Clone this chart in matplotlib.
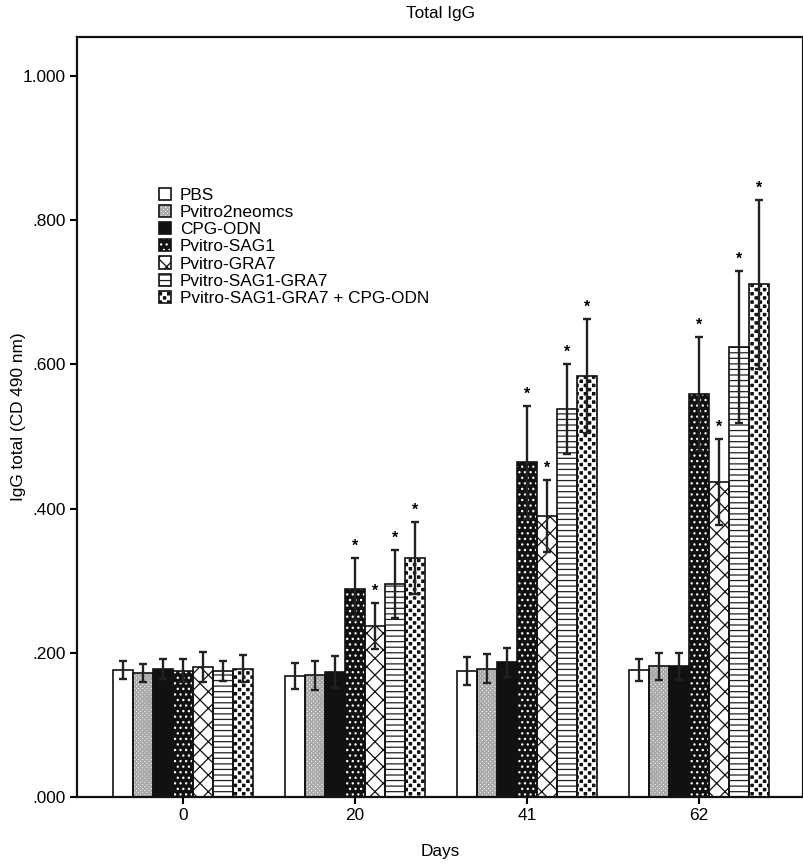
import numpy as np
import matplotlib
matplotlib.use('Agg')
import matplotlib.pyplot as plt
import matplotlib.hatch as mhatch
from matplotlib.path import Path
from matplotlib.legend_handler import HandlerTuple
from matplotlib.ticker import FuncFormatter

days = ['0', '20', '41', '62']
groups = ['PBS', 'Pvitro2neomcs', 'CPG-ODN', 'Pvitro-SAG1', 'Pvitro-GRA7',
          'Pvitro-SAG1-GRA7', 'Pvitro-SAG1-GRA7 + CPG-ODN']

pbs = [0.176, 0.168, 0.175, 0.176]
neo = [0.172, 0.169, 0.178, 0.181]
cpg = [0.178, 0.173, 0.187, 0.181]
sag1 = [0.175, 0.288, 0.464, 0.559]
gra7 = [0.180, 0.237, 0.390, 0.437]
sag1_gra7 = [0.175, 0.295, 0.538, 0.624]
combo = [0.178, 0.331, 0.584, 0.711]

pbs_err = [0.012, 0.018, 0.019, 0.015]
neo_err = [0.013, 0.020, 0.020, 0.019]
cpg_err = [0.014, 0.022, 0.020, 0.019]
sag1_err = [0.016, 0.043, 0.078, 0.079]
gra7_err = [0.021, 0.032, 0.050, 0.060]
sag1_gra7_err = [0.014, 0.047, 0.063, 0.105]
combo_err = [0.019, 0.050, 0.079, 0.117]

# significance stars (1 = star above bar)
pbs_sig = [0, 0, 0, 0]
neo_sig = [0, 0, 0, 0]
cpg_sig = [0, 0, 0, 0]
sag1_sig = [0, 1, 1, 1]
gra7_sig = [0, 1, 1, 1]
sag1_gra7_sig = [0, 1, 1, 1]
combo_sig = [0, 1, 1, 1]

values = [pbs, neo, cpg, sag1, gra7, sag1_gra7, combo]
errors = [pbs_err, neo_err, cpg_err, sag1_err, gra7_err, sag1_gra7_err, combo_err]
sigs = [pbs_sig, neo_sig, cpg_sig, sag1_sig, gra7_sig, sag1_gra7_sig, combo_sig]


# checkerboard hatch, replaces the star hatch ('*')
class CheckerHatch(mhatch.Shapes):
    size = 1.0
    filled = True

    def __init__(self, hatch, density):
        self.num_rows = hatch.count('*') * density
        c = 0.25
        s = c * 0.85
        verts, codes = [], []
        for ix in range(4):
            for iy in range(4):
                if (ix + iy) % 2 == 0:
                    x0 = -0.5 + ix * c + (c - s) / 2
                    y0 = -0.5 + iy * c + (c - s) / 2
                    verts += [(x0, y0), (x0 + s, y0), (x0 + s, y0 + s), (x0, y0 + s), (x0, y0)]
                    codes += [Path.MOVETO, Path.LINETO, Path.LINETO, Path.LINETO, Path.CLOSEPOLY]
        self.shape_vertices = np.array(verts)
        self.shape_codes = np.array(codes, dtype=Path.code_type)
        super().__init__(hatch, density)


mhatch._hatch_types = [t for t in mhatch._hatch_types if t is not mhatch.Stars] + [CheckerHatch]

plt.rcParams['font.family'] = ['Liberation Sans', 'DejaVu Sans']
plt.rcParams['hatch.linewidth'] = 0.9
FS = 12.4

# (face, hatch, hatch colour)
styles = [('white', None, 'white'),
          ('white', '**', '#a8a8a8'),
          ('#111111', None, '#111111'),
          ('#111111', '...', 'white'),
          ('white', 'xx', '#111111'),
          ('white', '---', '#222222'),
          ('#111111', '*', 'white')]

fig = plt.figure(figsize=(8.04, 8.64), dpi=100)
ax = fig.add_axes([77 / 804, 1 - 797 / 864, 726 / 804, 760 / 864])

x = np.arange(len(days))
w = 0.1163
handles = []
for j, g in enumerate(groups):
    pos = x + (j - 3) * w
    face, hatch, hc = styles[j]
    b1 = ax.bar(pos, values[j], w, color=face, edgecolor=hc, linewidth=0, hatch=hatch, zorder=2)
    b2 = ax.bar(pos, values[j], w, fill=False, edgecolor='#111111', linewidth=1.2, zorder=3)
    ax.errorbar(pos, values[j], yerr=errors[j], fmt='none', ecolor='#222222',
                elinewidth=1.7, capsize=3, capthick=1.7, zorder=4)
    for k in range(len(days)):
        if sigs[j][k]:
            ax.annotate('*', (pos[k], values[j][k] + errors[j][k]), xytext=(0, 3),
                        textcoords='offset points', ha='center', va='bottom',
                        fontsize=11.5, fontweight='bold')
    handles.append((b1, b2))

ax.set_xlim(-0.616, 3.605)
ax.set_ylim(0, 1.054)
ax.set_xticks(x)
ax.set_xticklabels(days)
ax.set_yticks([0, 0.2, 0.4, 0.6, 0.8, 1.0])
ax.yaxis.set_major_formatter(FuncFormatter(lambda v, p: f'{v:.3f}' if v >= 1 else f'{v:.3f}'.lstrip('0')))
ax.tick_params(direction='out', length=5, width=1.5, pad=3, labelsize=FS, top=False, right=False)
for s in ax.spines.values():
    s.set_linewidth(1.6)
    s.set_color('#111111')

ax.set_title('Total IgG', fontsize=FS, pad=14)
ax.set_xlabel('Days', fontsize=FS, va='center')
ax.xaxis.set_label_coords(0.5, -0.072)
ax.set_ylabel('IgG total (CD 490 nm)', fontsize=FS, va='center')
ax.yaxis.set_label_coords(-0.081, 0.5)

fig.legend(handles, groups, handler_map={tuple: HandlerTuple(ndivide=1)},
           loc='upper left', bbox_to_anchor=(159 / 804, 1 - 188 / 864),
           frameon=False, fontsize=FS, labelspacing=0.12, handlelength=0.7,
           handleheight=0.7, handletextpad=0.5, borderpad=0, borderaxespad=0)

fig.savefig('out.png', dpi=100)
